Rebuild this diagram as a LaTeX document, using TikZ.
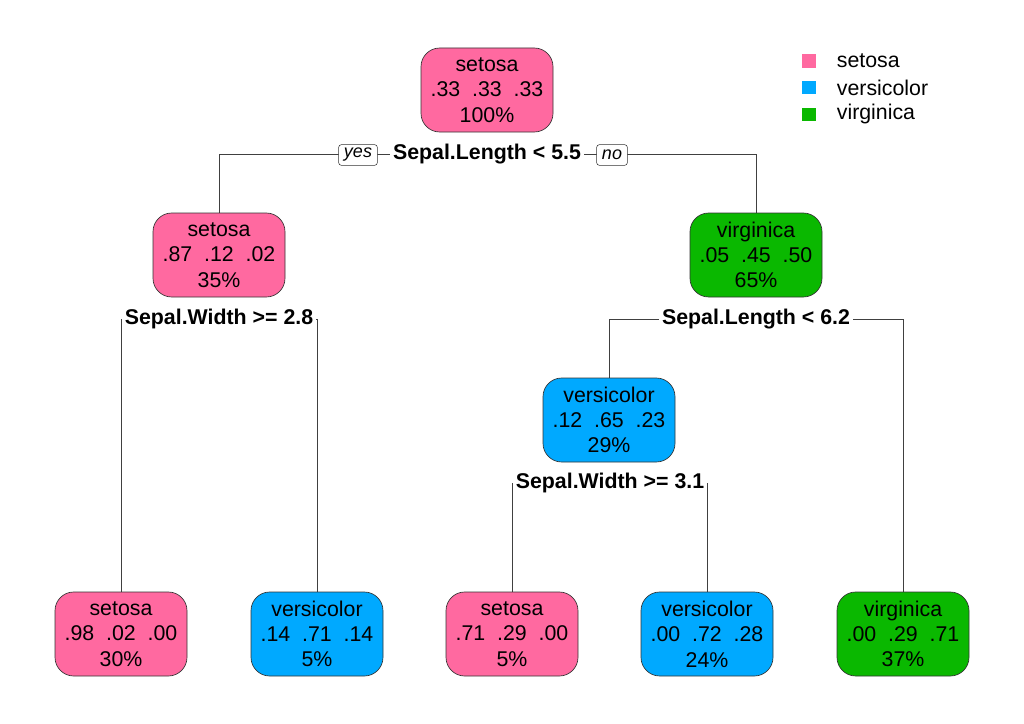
\documentclass[tikz,border=0pt]{standalone}
\usepackage{fontspec}
\setmainfont{Liberation Sans}
\usetikzlibrary{positioning, backgrounds}
\definecolor{setosacol}{RGB}{255,105,160}
\definecolor{versicolcol}{RGB}{0,169,255}
\definecolor{virgincol}{RGB}{10,184,0}

\begin{document}
\begin{tikzpicture}[x=0.75pt, y=-0.75pt,
  box/.style={draw=black!80, line width=0.5pt, rounded corners=14pt, align=center,
              minimum width=99pt, minimum height=63pt, inner sep=0pt,
              font=\fontsize{16}{19}\selectfont,
              execute at begin node={\rule{0pt}{19pt}}},
  setosa/.style={box, fill=setosacol},
  versi/.style={box, fill=versicolcol},
  virgin/.style={box, fill=virgincol},
  split/.style={fill=white, inner sep=2pt, font=\bfseries\fontsize{16}{19}\selectfont},
  yesno/.style={draw=black!80, fill=white, rounded corners=2pt, inner xsep=4pt, inner ysep=0pt,
                minimum height=15.5pt, font=\itshape\fontsize{13.5}{15}\selectfont},
  edge/.style={draw=black!75, line width=0.5pt},
  key/.style={minimum width=11pt, minimum height=10pt, inner sep=0pt},
  keytext/.style={font=\fontsize{16}{19}\selectfont, inner sep=0pt}]
\useasboundingbox (0,0) rectangle (1024,724);
% Nodes
\node[setosa] (n1) at (487,90) {setosa\\.33\ \ .33\ \ .33\\100\%};
\node[setosa] (n2) at (219,255) {setosa\\.87\ \ .12\ \ .02\\35\%};
\node[virgin] (n3) at (756,255) {virginica\\.05\ \ .45\ \ .50\\65\%};
\node[versi] (n6) at (609,420) {versicolor\\.12\ \ .65\ \ .23\\29\%};
\node[setosa] (n4) at (121,634) {setosa\\.98\ \ .02\ \ .00\\30\%};
\node[versi] (n5) at (317,634) {versicolor\\.14\ \ .71\ \ .14\\5\%};
\node[setosa] (n12) at (512,634) {setosa\\.71\ \ .29\ \ .00\\5\%};
\node[versi] (n13) at (707,634) {versicolor\\.00\ \ .72\ \ .28\\24\%};
\node[virgin] (n7) at (903,634) {virginica\\.00\ \ .29\ \ .71\\37\%};
% Splits
\node[split] (s1) at (487,154) {Sepal.Length < 5.5};
\node[split] (s2) at (219,319) {Sepal.Width >= 2.8};
\node[split] (s3) at (756,319) {Sepal.Length < 6.2};
\node[split] (s6) at (610,483) {Sepal.Width >= 3.1};
\node[yesno] (yes) at (358,155) {yes};
\node[yesno] (no) at (612,155) {no};
% Legend
\node[key, fill=setosacol] (k1) at (809,61) {};
\node[key, fill=versicolcol, below=20pt of k1.center, anchor=center] (k2) {};
\node[key, fill=virgincol, below=20pt of k2.center, anchor=center] (k3) {};
\node[keytext, right=15pt of k1] {setosa};
\node[keytext, right=15pt of k2] {versicolor};
\node[keytext, right=15pt of k3] {virginica};
% Lines
\begin{scope}[on background layer]
\draw[edge] (s1.center) -| (n2.north);
\draw[edge] (s1.center) -| (n3.north);
\draw[edge] (s2.center) -| (n4.north);
\draw[edge] (s2.center) -| (n5.north);
\draw[edge] (s3.center) -| (n6.north);
\draw[edge] (s3.center) -| (n7.north);
\draw[edge] (s6.center) -| (n12.north);
\draw[edge] (s6.center) -| (n13.north);
\end{scope}
\end{tikzpicture}
\end{document}
